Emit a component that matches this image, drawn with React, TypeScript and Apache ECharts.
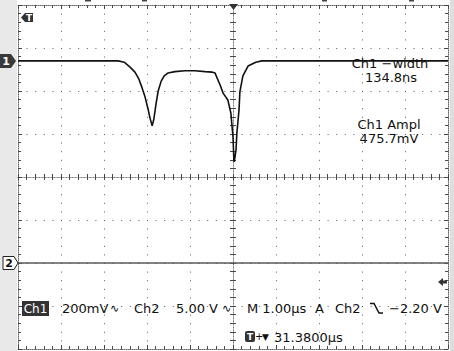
import React, { useEffect, useRef } from "react";
import * as echarts from "echarts";

// time relative to trigger (µs), 1.00 µs/div
const timeUs = [
  -5.0, -2.67, -2.53, -2.4, -2.28, -2.19, -2.12, -2.05, -1.98, -1.93, -1.88, -1.84, -1.79, -1.74,
  -1.67, -1.6, -1.51, -1.35, -1.12, -0.88, -0.65, -0.49, -0.42, -0.3, -0.23, -0.12, -0.05, 0.0,
  0.02, 0.03, 0.07, 0.09, 0.14, 0.16, 0.23, 0.35, 0.53, 0.67, 5.0,
];
// Ch1 trace in divisions (200 mV/div)
const ch1Div = [
  2.7, 2.7, 2.67, 2.56, 2.44, 2.28, 2.09, 1.88, 1.6, 1.37, 1.19, 1.35, 1.7, 2.0,
  2.23, 2.35, 2.42, 2.45, 2.47, 2.47, 2.45, 2.44, 2.42, 2.14, 1.95, 1.79, 1.49, 0.93,
  0.4, 0.35, 0.63, 1.02, 1.56, 1.98, 2.35, 2.58, 2.67, 2.7, 2.7,
];
const ch2Time = [-5, 5];
const ch2Div = [-2.0, -2.0];

const measureLabels = ["Ch1 \u2212width", "134.8ns", "Ch1 Ampl", "475.7mV"];
const statusRow1 = ["200mV", "Ch2", "5.00 V", "M 1.00\u00b5s", "A", "Ch2", "\u22122.20 V"];
const statusRow2 = "31.3800\u00b5s";

const FONT = '"DejaVu Sans", "Liberation Sans", sans-serif';
const GRID_DOT = "#5a5a5a";

function makeAxis(dim: "x" | "y", position: string, inside: boolean, center: boolean, split: boolean) {
  const isX = dim === "x";
  return {
    type: "value",
    min: isX ? -5 : -4,
    max: isX ? 5 : 4,
    interval: 1,
    position,
    axisLine: {
      show: true,
      onZero: center,
      ...(center ? { onZeroAxisIndex: 0 } : {}),
      lineStyle: { color: center ? "#808080" : "#666", width: 1, type: center ? [1, 2] : [1, 1] },
    },
    axisTick: { show: true, inside, length: center ? 3 : 4, lineStyle: { color: "#444", width: 1 } },
    minorTick: { show: true, splitNumber: 5, length: 3, lineStyle: { color: "#4a4a4a", width: 1 } },
    splitLine: { show: split, lineStyle: { color: GRID_DOT, width: 1, type: [1, 7.6] } },
    minorSplitLine: { show: false },
    axisLabel: { show: false },
    silent: true,
  };
}

function txt(text: string, x: number, y: number, opts: any = {}) {
  return {
    type: "text",
    x,
    y,
    z: 100,
    style: {
      text,
      fill: opts.fill || "#111",
      font: `${opts.weight || "normal"} ${opts.size || 13}px ${FONT}`,
      textAlign: opts.align || "left",
      textVerticalAlign: "middle",
    },
  };
}

export default function App() {
  const ref = useRef<HTMLDivElement>(null);

  useEffect(() => {
    if (!ref.current) return;
    const chart = echarts.init(ref.current, undefined, { renderer: "svg" });

    const graphics: any[] = [
      { type: "rect", z: 0, shape: { x: 0, y: 0, width: 17, height: 351 }, style: { fill: "#e9e9e9" } },
      { type: "rect", z: 0, shape: { x: 450, y: 0, width: 4, height: 351 }, style: { fill: "#dedede" } },
      // top small marks
      { type: "line", z: 100, shape: { x1: 85, y1: 0.5, x2: 91, y2: 0.5 }, style: { stroke: "#444", lineWidth: 2 } },
      { type: "line", z: 100, shape: { x1: 142, y1: 0.5, x2: 147, y2: 0.5 }, style: { stroke: "#444", lineWidth: 2 } },
      { type: "line", z: 100, shape: { x1: 322, y1: 0.5, x2: 327, y2: 0.5 }, style: { stroke: "#444", lineWidth: 2 } },
      { type: "line", z: 100, shape: { x1: 409, y1: 0.5, x2: 414, y2: 0.5 }, style: { stroke: "#444", lineWidth: 2 } },
      // Ch1 marker
      {
        type: "polygon",
        z: 100,
        shape: { points: [[0, 54], [11, 54], [16, 61], [11, 68], [0, 68]] },
        style: { fill: "#3a3a3a" },
      },
      txt("1", 6, 61.5, { fill: "#fff", weight: "bold", size: 11, align: "center" }),
      // Ch2 marker
      {
        type: "polygon",
        z: 100,
        shape: { points: [[3, 256.5], [14, 256.5], [18, 263], [14, 269.5], [3, 269.5]] },
        style: { fill: "#fff", stroke: "#222", lineWidth: 1 },
      },
      txt("2", 9, 263.5, { weight: "bold", size: 11, align: "center" }),
      // Trigger T marker top-left
      {
        type: "polygon",
        z: 100,
        shape: { points: [[21, 17.5], [25, 13], [33, 13], [33, 22], [25, 22]] },
        style: { fill: "#333" },
      },
      txt("T", 29, 17.5, { fill: "#fff", weight: "bold", size: 9, align: "center" }),
      // trigger position triangle (top center)
      {
        type: "polygon",
        z: 100,
        shape: { points: [[229, 4], [238, 4], [233.5, 10]] },
        style: { fill: "#333" },
      },
      // trigger level arrow (right)
      {
        type: "polygon",
        z: 100,
        shape: { points: [[438, 282], [443, 278], [443, 280.5], [447, 280.5], [447, 283.5], [443, 283.5], [443, 286]] },
        style: { fill: "#333" },
      },
      // measurements
      txt(measureLabels[0], 390, 63, { align: "center" }),
      txt(measureLabels[1], 391, 77.5, { align: "center" }),
      txt(measureLabels[2], 389, 124.5, { align: "center" }),
      txt(measureLabels[3], 389, 138.5, { align: "center" }),
      // status row 1
      { type: "rect", z: 100, shape: { x: 22, y: 301, width: 27, height: 15 }, style: { fill: "#333" } },
      txt("Ch1", 35.5, 308.5, { fill: "#fff", size: 12, align: "center" }),
      txt(statusRow1[0], 62, 308.5),
      txt("\u223f", 110, 308, { size: 11 }),
      txt(statusRow1[1], 134, 308.5),
      txt(statusRow1[2], 176, 308.5),
      txt("\u223f", 222, 308, { size: 11 }),
      txt(statusRow1[3], 247, 308.5),
      txt(statusRow1[4], 315, 308.5),
      txt(statusRow1[5], 335, 308.5),
      {
        type: "polyline",
        z: 100,
        shape: { points: [[370, 303.5], [374, 303.5], [379, 313], [383, 313]] },
        style: { stroke: "#111", lineWidth: 1.5, fill: null },
      },
      txt(statusRow1[6], 389, 308.5),
      // status row 2
      { type: "rect", z: 100, shape: { x: 245, y: 331, width: 10, height: 11, r: 2 }, style: { fill: "#333" } },
      txt("T", 250, 336.5, { fill: "#fff", weight: "bold", size: 9, align: "center" }),
      txt("+", 255, 336.5, { size: 10 }),
      txt("\u25bc", 262, 336.5, { size: 9 }),
      txt(statusRow2, 274, 337),
    ];

    chart.setOption({
      animation: false,
      backgroundColor: "#ffffff",
      grid: { left: 18, top: 5, width: 430, height: 344, containLabel: false },
      xAxis: [
        makeAxis("x", "bottom", true, false, true),
        makeAxis("x", "top", true, false, false),
        makeAxis("x", "bottom", true, true, false),
        makeAxis("x", "bottom", false, true, false),
      ],
      yAxis: [
        makeAxis("y", "left", true, false, true),
        makeAxis("y", "right", true, false, false),
        makeAxis("y", "left", true, true, false),
        makeAxis("y", "left", false, true, false),
      ],
      series: [
        {
          type: "line",
          xAxisIndex: 0,
          yAxisIndex: 0,
          data: ch2Time.map((t, i) => [t, ch2Div[i]]),
          showSymbol: false,
          lineStyle: { color: "#5a5a5a", width: 1.5 },
          z: 4,
          silent: true,
        },
        {
          type: "line",
          xAxisIndex: 0,
          yAxisIndex: 0,
          data: timeUs.map((t, i) => [t, ch1Div[i]]),
          showSymbol: false,
          lineStyle: { color: "#111", width: 1.6 },
          z: 5,
          silent: true,
        },
      ],
      graphic: { elements: graphics },
    });

    return () => chart.dispose();
  }, []);

  return (
    <div
      ref={ref}
      style={{ position: "absolute", left: 0, top: 0, width: 454, height: 351, background: "#fff" }}
    />
  );
}
